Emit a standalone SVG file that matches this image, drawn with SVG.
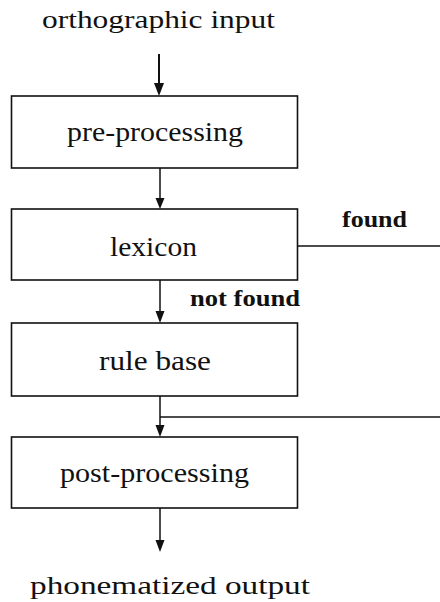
<svg xmlns="http://www.w3.org/2000/svg" width="440" height="602" viewBox="0 0 440 602">
  <style>
    .box { fill: #ffffff; stroke: #111111; stroke-width: 1.6; }
    .lbl { font-family: "Liberation Serif", "DejaVu Serif", serif; font-size: 28px; fill: #111111; }
    .io { font-family: "Liberation Serif", "DejaVu Serif", serif; font-size: 25px; fill: #111111; }
    .tag { font-family: "Liberation Serif", "DejaVu Serif", serif; font-size: 23px; font-weight: bold; fill: #111111; }
    .wire { fill: none; stroke: #111111; stroke-width: 1.5; }
    .head { fill: #111111; }
  </style>
  <rect width="440" height="602" fill="#ffffff"/>

  <text class="io" x="42" y="28" textLength="233" lengthAdjust="spacingAndGlyphs">orthographic input</text>

  <g id="preprocessing">
    <rect class="box" x="11.5" y="96" width="286" height="72"/>
    <text class="lbl" x="67" y="141" textLength="176" lengthAdjust="spacingAndGlyphs">pre-processing</text>
  </g>

  <g id="lexicon">
    <rect class="box" x="11.5" y="209" width="286" height="71"/>
    <text class="lbl" x="110" y="256" textLength="87" lengthAdjust="spacingAndGlyphs">lexicon</text>
  </g>

  <g id="rulebase">
    <rect class="box" x="11.5" y="323" width="286" height="73"/>
    <text class="lbl" x="99" y="370" textLength="112" lengthAdjust="spacingAndGlyphs">rule base</text>
  </g>

  <g id="postprocessing">
    <rect class="box" x="11.5" y="437" width="286" height="71"/>
    <text class="lbl" x="60" y="482" textLength="189" lengthAdjust="spacingAndGlyphs">post-processing</text>
  </g>

  <text class="io" x="30" y="594" textLength="280" lengthAdjust="spacingAndGlyphs">phonematized output</text>

  <g id="connectors">
    <line x1="159" y1="54" x2="159" y2="84" stroke="#111111" stroke-width="2"/>
    <path class="head" d="M154,83 L164,83 L159,96 Z"/>

    <line class="wire" x1="160" y1="168" x2="160" y2="199"/>
    <path class="head" d="M155.5,198 L164.5,198 L160,209 Z"/>

    <line class="wire" x1="160" y1="280" x2="160" y2="312" stroke-width="1.8"/>
    <path class="head" d="M155.5,311 L164.5,311 L160,323 Z"/>

    <line class="wire" x1="160" y1="396" x2="160" y2="426" stroke-width="1.8"/>
    <path class="head" d="M155.5,425 L164.5,425 L160,437 Z"/>
    <line class="wire" x1="160" y1="417" x2="440" y2="417"/>

    <line class="wire" x1="297.5" y1="246" x2="440" y2="246"/>

    <line class="wire" x1="160" y1="508" x2="160" y2="541"/>
    <path class="head" d="M155.5,540 L164.5,540 L160,552 Z"/>

    <text class="tag" x="342" y="227" textLength="65" lengthAdjust="spacingAndGlyphs">found</text>
    <text class="tag" x="190" y="306" textLength="110" lengthAdjust="spacingAndGlyphs">not found</text>
  </g>
</svg>
